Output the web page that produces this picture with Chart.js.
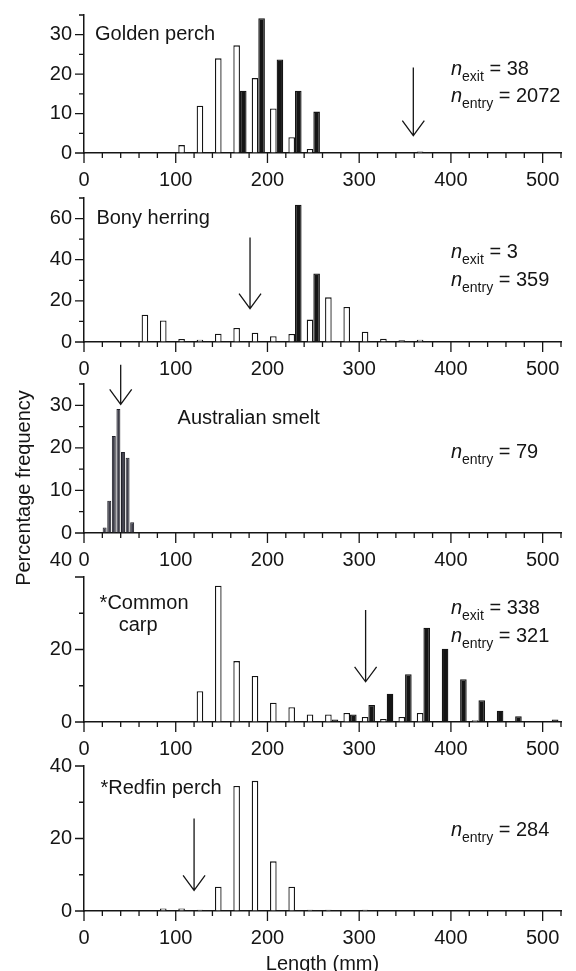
<!DOCTYPE html>
<html>
<head>
<meta charset="utf-8">
<script src="https://cdn.jsdelivr.net/npm/chart.js@4/dist/chart.umd.min.js"></script>
<style>
  html, body { margin: 0; padding: 0; background: #fff; }
  #page { position: relative; width: 576px; height: 971px; overflow: hidden; background: #fff; }
  #page canvas { position: absolute; left: 0; top: 0; }
</style>
</head>
<body>
<div id="page">
  <canvas id="golden" width="576" height="1000"></canvas>
  <canvas id="bony" width="576" height="1000"></canvas>
  <canvas id="smelt" width="576" height="1000"></canvas>
  <canvas id="carp" width="576" height="1000"></canvas>
  <canvas id="redfin" width="576" height="1000"></canvas>
</div>
<script>
// lower edge of each 20 mm length class
const binStarts = [0, 20, 40, 60, 80, 100, 120, 140, 160, 180, 200, 220, 240,
                   260, 280, 300, 320, 340, 360, 380, 400, 420, 440, 460, 480, 500];

// percentage frequency per class (open bars = entry, black bars = exit)
const goldenEntry = [0, 0, 0, 0, 0, 2, 12, 24, 27.3, 19, 11.3, 4, 1, 0, 0, 0, 0, 0, 0.4, 0, 0, 0, 0, 0, 0, 0];
const goldenExit  = [0, 0, 0, 0, 0, 0, 0, 0, 15.8, 34.2, 23.7, 15.8, 10.5, 0, 0, 0, 0, 0, 0, 0, 0, 0, 0, 0, 0, 0];
const bonyEntry   = [0, 0, 0, 13.3, 10.5, 1.5, 1.1, 4, 6.8, 4.5, 2.8, 3.9, 10.9, 21.7, 17, 5, 1.6, 0.8, 1.1, 0, 0, 0, 0, 0, 0, 0];
const bonyExit    = [0, 0, 0, 0, 0, 0, 0, 0, 0, 0, 0, 66.7, 33.3, 0, 0, 0, 0, 0, 0, 0, 0, 0, 0, 0, 0, 0];
const carpEntry   = [0, 0, 0, 0, 0, 0, 8.5, 37.6, 16.8, 12.7, 5.3, 4.1, 2.1, 2.1, 2.5, 1.4, 0.8, 1.4, 2.5, 0.2, 0.2, 0.5, 0, 0, 0.2, 0];
const carpExit    = [0, 0, 0, 0, 0, 0, 0, 0, 0.3, 0, 0, 0.3, 0.3, 0.7, 2.1, 4.7, 7.8, 13.2, 26, 20.2, 11.8, 6, 3.1, 1.6, 0.2, 0.7];
const redfinEntry = [0, 0, 0, 0, 0.7, 0.7, 0.35, 6.7, 34.5, 35.9, 13.7, 6.7, 0.35, 0.35, 0, 0.35, 0, 0, 0, 0, 0, 0, 0, 0, 0, 0];

// Australian smelt uses 5 mm classes
const smeltBins  = [20, 25, 30, 35, 40, 45, 50];
const smeltEntry = [1.3, 7.6, 22.8, 29.1, 19.0, 17.7, 2.5];

const species   = ['Golden perch', 'Bony herring', 'Australian smelt', '*Common carp', '*Redfin perch'];
const nExit     = [38, 3, null, 338, null];
const nEntry    = [2072, 359, 79, 321, 284];
const arrowAtMm = [359, 181, 40, 307, 120];

const INK = '#151515';
const FONT = '"Liberation Sans", Arial, Helvetica, sans-serif';

Chart.defaults.font.family = FONT;
Chart.defaults.font.size = 20;
Chart.defaults.color = INK;

// layout of each panel (pixel rows of the plot area) and annotation spots in data units
const panels = [
  { id: 'golden', top: 8, bottom: 153, yMax: 35, yStep: 5, yLabelStep: 10,
    entry: goldenEntry, exit: goldenExit,
    names: [{ text: species[0], x: 12, y: 30, align: 'left' }],
    nPos: { x: 400, exit: 19.7, entry: 12.9 }, arrow: { top: 21.7, tip: 4.4 } },
  { id: 'bony', top: 198, bottom: 342, yMax: 70, yStep: 10, yLabelStep: 20,
    entry: bonyEntry, exit: bonyExit,
    names: [{ text: species[1], x: 13.5, y: 60, align: 'left' }],
    nPos: { x: 400, exit: 41, entry: 27.1 }, arrow: { top: 50.8, tip: 16.2 } },
  { id: 'smelt', top: 384, bottom: 533, yMax: 35, yStep: 5, yLabelStep: 10,
    fine: true,
    names: [{ text: species[2], x: 102, y: 27, align: 'left' }],
    nPos: { x: 400, entry: 17.6 }, arrow: { top: 39.5, tip: 30.2 }, yTitle: true },
  { id: 'carp', top: 577, bottom: 722, yMax: 40, yStep: 10, yLabelStep: 20,
    entry: carpEntry, exit: carpExit, liftTopLabel: true,
    names: [{ text: '*Common', x: 17, y: 32.8, align: 'left' },
            { text: 'carp', x: 59, y: 26.7, align: 'center' }],
    nPos: { x: 400, exit: 29.8, entry: 22 }, arrow: { top: 30.9, tip: 11.1 } },
  { id: 'redfin', top: 766, bottom: 911, yMax: 40, yStep: 10, yLabelStep: 20,
    entry: redfinEntry, exit: null, xTitle: 'Length (mm)',
    names: [{ text: species[4], x: 18, y: 33.9, align: 'left' }],
    nPos: { x: 400, entry: 20.6 }, arrow: { top: 25.5, tip: 5.7 } }
];

function toPoints(values) {
  if (!values) return [];
  return binStarts.map((b, k) => ({ x: b + 10, y: values[k] })).filter(pt => pt.y > 0);
}

function drawN(ctx, x, y, sub, value) {
  ctx.textAlign = 'left';
  ctx.textBaseline = 'alphabetic';
  ctx.font = 'italic 20px ' + FONT;
  ctx.fillText('n', x, y);
  let w = ctx.measureText('n').width;
  ctx.font = '14px ' + FONT;
  ctx.fillText(sub, x + w, y + 6);
  w += ctx.measureText(sub).width;
  ctx.font = '20px ' + FONT;
  ctx.fillText(' = ' + value, x + w, y);
}

function decor(p, i) {
  return {
    id: 'decor_' + p.id,
    afterDraw(chart) {
      const ctx = chart.ctx;
      const xs = chart.scales.x, ys = chart.scales.y;
      const area = chart.chartArea;
      ctx.save();
      ctx.strokeStyle = INK;
      ctx.fillStyle = INK;
      ctx.lineWidth = 1.3;

      // tick marks: long at labelled values, short in between
      ctx.beginPath();
      xs.ticks.forEach(t => {
        const px = xs.getPixelForValue(t.value);
        const len = t.value % 100 === 0 ? 10 : 5;
        ctx.moveTo(px, area.bottom);
        ctx.lineTo(px, area.bottom + len);
      });
      ys.ticks.forEach(t => {
        const py = ys.getPixelForValue(t.value);
        const len = t.value % p.yLabelStep === 0 ? 9 : 5;
        ctx.moveTo(area.left - len, py);
        ctx.lineTo(area.left, py);
      });
      ctx.stroke();

      if (p.liftTopLabel) {
        ctx.font = '20px ' + FONT;
        ctx.textAlign = 'right';
        ctx.textBaseline = 'middle';
        ctx.fillText(String(p.yMax), area.left - 12, ys.getPixelForValue(p.yMax) - 17);
      }

      // species name
      ctx.font = '20px ' + FONT;
      ctx.textBaseline = 'middle';
      p.names.forEach(n => {
        ctx.textAlign = n.align;
        ctx.fillText(n.text, xs.getPixelForValue(n.x), ys.getPixelForValue(n.y));
      });

      // sample sizes
      const nx = xs.getPixelForValue(p.nPos.x);
      if (nExit[i] !== null) drawN(ctx, nx, ys.getPixelForValue(p.nPos.exit), 'exit', nExit[i]);
      drawN(ctx, nx, ys.getPixelForValue(p.nPos.entry), 'entry', nEntry[i]);

      // arrow
      const ax = xs.getPixelForValue(arrowAtMm[i]);
      const aTop = ys.getPixelForValue(p.arrow.top);
      const aTip = ys.getPixelForValue(p.arrow.tip);
      ctx.lineWidth = 1.3;
      ctx.beginPath();
      ctx.moveTo(ax, aTop);
      ctx.lineTo(ax, aTip);
      ctx.moveTo(ax - 11, aTip - 15);
      ctx.lineTo(ax, aTip);
      ctx.lineTo(ax + 11, aTip - 15);
      ctx.stroke();

      if (p.yTitle) {
        ctx.translate(29.5, 488);
        ctx.rotate(-Math.PI / 2);
        ctx.font = '20px ' + FONT;
        ctx.textAlign = 'center';
        ctx.textBaseline = 'alphabetic';
        ctx.fillText('Percentage frequency', 0, 0);
      }
      ctx.restore();
    }
  };
}

panels.forEach((p, i) => {
  const datasets = [];
  if (p.fine) {
    datasets.push({
      label: 'Entry',
      data: smeltBins.map((b, k) => ({ x: b + 2.5, y: smeltEntry[k] })),
      backgroundColor: '#3e3e4a', borderColor: '#202028', borderWidth: 1,
      barPercentage: 0.86, categoryPercentage: 1
    });
  } else {
    datasets.push({
      label: 'Entry', data: toPoints(p.entry),
      backgroundColor: '#ffffff', borderColor: INK, borderWidth: 1.3,
      barPercentage: 1, categoryPercentage: 0.72
    });
    datasets.push({
      label: 'Exit', data: toPoints(p.exit),
      backgroundColor: INK, borderColor: INK, borderWidth: 1.3,
      barPercentage: 1, categoryPercentage: 0.72
    });
  }

  const xHeight = p.xTitle ? 65 : 40;

  new Chart(document.getElementById(p.id), {
    type: 'bar',
    data: { datasets: datasets },
    options: {
      responsive: false,
      animation: false,
      events: [],
      layout: { padding: { left: 0, right: 15, top: p.top, bottom: 1000 - p.bottom - xHeight } },
      plugins: { legend: { display: false }, tooltip: { enabled: false } },
      scales: {
        x: {
          type: 'linear', min: 0, max: 520, offset: false,
          afterFit: s => { s.height = xHeight; },
          grid: { display: true, drawOnChartArea: false, drawTicks: true, tickLength: 10, color: 'rgba(0,0,0,0)', offset: false },
          border: { display: true, color: INK, width: 1.5 },
          ticks: {
            stepSize: 20, autoSkip: false, maxRotation: 0, padding: 5,
            callback: v => (v % 100 === 0 && v <= 500 ? String(v) : '')
          },
          title: p.xTitle ? { display: true, text: p.xTitle, font: { size: 20 }, padding: { top: 0, bottom: 0 } } : { display: false }
        },
        y: {
          min: 0, max: p.yMax,
          afterFit: s => { s.width = 84; },
          grid: { display: true, drawOnChartArea: false, drawTicks: true, tickLength: 9, color: 'rgba(0,0,0,0)' },
          border: { display: true, color: INK, width: 1.5 },
          ticks: {
            stepSize: p.yStep, autoSkip: false, padding: 3,
            callback: v => {
              if (v % p.yLabelStep !== 0) return '';
              if (p.liftTopLabel && v === p.yMax) return '';
              return String(v);
            }
          }
        }
      }
    },
    plugins: [decor(p, i)]
  });
});
</script>
</body>
</html>
